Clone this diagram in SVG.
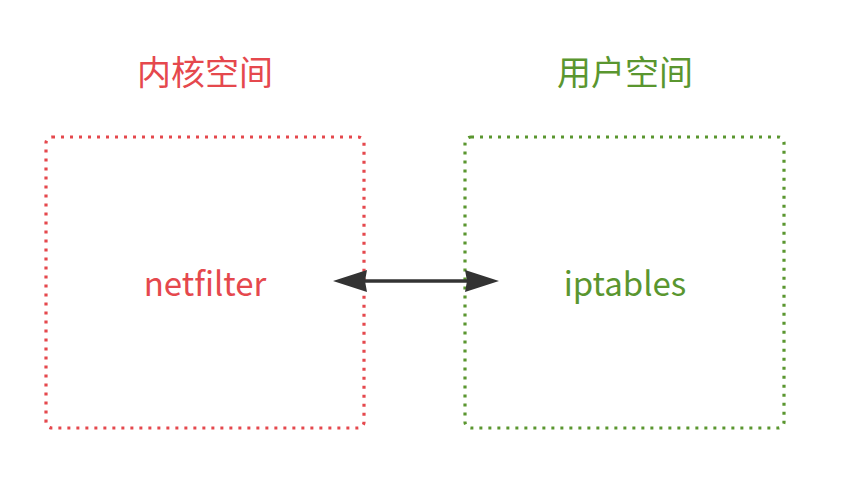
<svg xmlns="http://www.w3.org/2000/svg" width="855" height="479" viewBox="0 0 855 479">
<style>
.box{fill:none;stroke-width:3.2;stroke-dasharray:3 6;stroke-linecap:butt}
.t{font-family:"Noto Sans CJK SC","Noto Sans",sans-serif;text-anchor:middle}
.h{font-size:34px}.l{font-size:33px}
.red{fill:#e5484d}.green{fill:#5a962f}
</style>
<g id="kernel">
<rect class="box" x="46" y="137" width="318" height="291" rx="6" stroke="#e5484d"/>
<text class="t h red" x="205" y="85">内核空间</text>
<text class="t l red" x="205" y="296">netfilter</text>
</g>
<g id="user">
<rect class="box" x="465" y="137" width="319" height="291" rx="6" stroke="#5a962f"/>
<text class="t h green" x="625" y="85">用户空间</text>
<text class="t l green" x="625" y="296">iptables</text>
</g>
<g id="connectors">
<line x1="340" y1="281" x2="492" y2="281" stroke="#333" stroke-width="3.5"/>
<path d="M333,281L367,270L365,281L367,292Z" fill="#333"/>
<path d="M499,281L465,270L467,281L465,292Z" fill="#333"/>
</g>
</svg>
